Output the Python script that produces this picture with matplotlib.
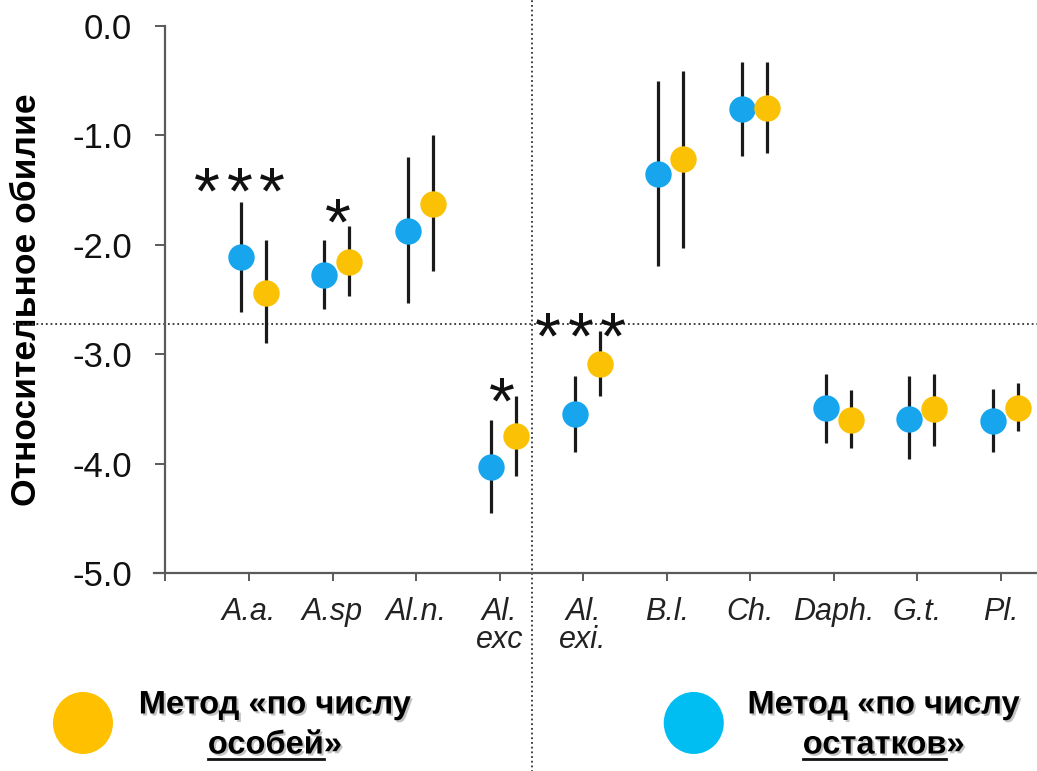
import matplotlib
matplotlib.use('Agg')
import matplotlib.pyplot as plt
import matplotlib.patheffects as pe
from matplotlib.patches import Ellipse
import numpy as np

plt.rcParams['font.family'] = ['Liberation Sans', 'DejaVu Sans']
plt.rcParams['axes.unicode_minus'] = False

# таксоны
categories = ['A.a.', 'A.sp', 'Al.n.', 'Al.\nexc', 'Al.\nexi.', 'B.l.', 'Ch.', 'Daph.', 'G.t.', 'Pl.']

# метод «по числу остатков» (голубой)
rem_mean = [-2.11, -2.28, -1.87, -4.03, -3.55, -1.35, -0.76, -3.49, -3.59, -3.61]
rem_low = [-2.61, -2.59, -2.53, -4.45, -3.89, -2.19, -1.19, -3.81, -3.96, -3.89]
rem_high = [-1.61, -1.96, -1.20, -3.60, -3.20, -0.50, -0.33, -3.18, -3.20, -3.32]

# метод «по числу особей» (жёлтый)
ind_mean = [-2.44, -2.16, -1.63, -3.75, -3.09, -1.22, -0.75, -3.60, -3.50, -3.49]
ind_low = [-2.90, -2.47, -2.24, -4.11, -3.38, -2.03, -1.16, -3.86, -3.84, -3.70]
ind_high = [-1.96, -1.83, -1.00, -3.38, -2.79, -0.41, -0.33, -3.33, -3.18, -3.26]

# значимость различий
stars = ['***', '*', '*', '***']
star_x = [0.89, 2.07, 4.03, 4.97]
star_y = [-1.36, -1.65, -3.28, -2.69]

h_cut = -2.72
v_cut = 4.39

yticks = [0, -1, -2, -3, -4, -5]
ytick_labels = ['0.0', '-1.0', '-2.0', '-3.0', '-4.0', '-5.0']

blue = '#17A6EE'
yellow = '#FBC104'
axis_col = '#5a5a5a'

fig = plt.figure(figsize=(10.37, 7.71), dpi=100)
ax = fig.add_axes([0.1485, 0.2568, 0.8515, 0.7095])

x = np.arange(1, len(categories) + 1)
series = [(-0.1, rem_mean, rem_low, rem_high, blue),
          (0.2, ind_mean, ind_low, ind_high, yellow)]
for offs, mean, lo, hi, col in series:
    mean = np.array(mean)
    yerr = [mean - np.array(lo), np.array(hi) - mean]
    ax.errorbar(x + offs, mean, yerr=yerr, fmt='o', ms=19, mfc=col, mec='none',
                ecolor='#1a1a1a', elinewidth=2.3, capsize=0, zorder=3)

fs_star = 48
for s, sx, sy in zip(stars, star_x, star_y):
    n = len(s)
    for j in range(n):
        off = (j - (n - 1) / 2) * 23.4
        ax.annotate('*', (sx, sy), xytext=(off, -0.575 * fs_star), textcoords='offset points',
                    ha='center', va='baseline', fontsize=fs_star, color='#111111', zorder=4)

# пунктирные линии
ax.axhline(h_cut, xmin=-0.16, xmax=1.0, color='#333333', lw=1.3, ls=(0, (1, 1.6)), clip_on=False)
ax.axvline(v_cut, ymin=-0.45, ymax=1.05, color='#333333', lw=1.3, ls=(0, (1, 1.6)), clip_on=False)

ax.set_xlim(-0.136, 10.43)
ax.set_ylim(-5, 0)
ax.spines['top'].set_visible(False)
ax.spines['right'].set_visible(False)
ax.spines['left'].set_position(('data', 0))
for sp in ['left', 'bottom']:
    ax.spines[sp].set_color(axis_col)
    ax.spines[sp].set_linewidth(1.6)

ax.set_xticks(np.arange(0, 11))
ax.set_xticklabels([''] + categories, fontsize=22, style='italic', color='#222222',
                   linespacing=0.95)
ax.tick_params(axis='x', direction='out', length=6, width=1.4, color=axis_col, pad=11)
ax.set_yticks(yticks)
ax.set_yticklabels(ytick_labels, fontsize=25, color='#111111')
ax.tick_params(axis='y', direction='out', length=7, width=1.4, color=axis_col, pad=17)

ax.set_ylabel('Относительное обилие', fontsize=25.5, fontweight='bold')
ax.yaxis.set_label_coords(-0.126, 0.5)

# легенда
shadow = [pe.withSimplePatchShadow(offset=(1.5, -1.5), shadow_rgbFace='#888888', alpha=0.5)]
leg_fs = 23.5
fig.add_artist(Ellipse((0.080, 0.0623), 0.0579, 0.0804, transform=fig.transFigure,
                       color='#FFC000', ec='none'))
fig.add_artist(Ellipse((0.669, 0.0623), 0.0579, 0.0804, transform=fig.transFigure,
                       color='#00BDF2', ec='none'))

legend_items = [(0.265, 'Метод «по числу', 'особей'), (0.852, 'Метод «по числу', 'остатков')]
fig.canvas.draw()
renderer = fig.canvas.get_renderer()
for cx, line1, word in legend_items:
    fig.text(cx, 0.0856, line1, ha='center', va='center', fontsize=leg_fs, fontweight='bold',
             path_effects=shadow)
    t2 = fig.text(cx, 0.0337, word + '»', ha='center', va='center', fontsize=leg_fs,
                  fontweight='bold', path_effects=shadow)
    full = t2.get_window_extent(renderer)
    tmp = fig.text(0, 0, '»', fontsize=leg_fs, fontweight='bold')
    qw = tmp.get_window_extent(renderer).width
    tmp.remove()
    x0 = full.x0 / fig.bbox.width
    x1 = (full.x1 - qw) / fig.bbox.width
    yline = (full.y0 + 2) / fig.bbox.height
    fig.add_artist(plt.Line2D([x0, x1], [yline, yline], transform=fig.transFigure,
                              color='#111111', lw=2))

fig.savefig('out.png', dpi=100)
